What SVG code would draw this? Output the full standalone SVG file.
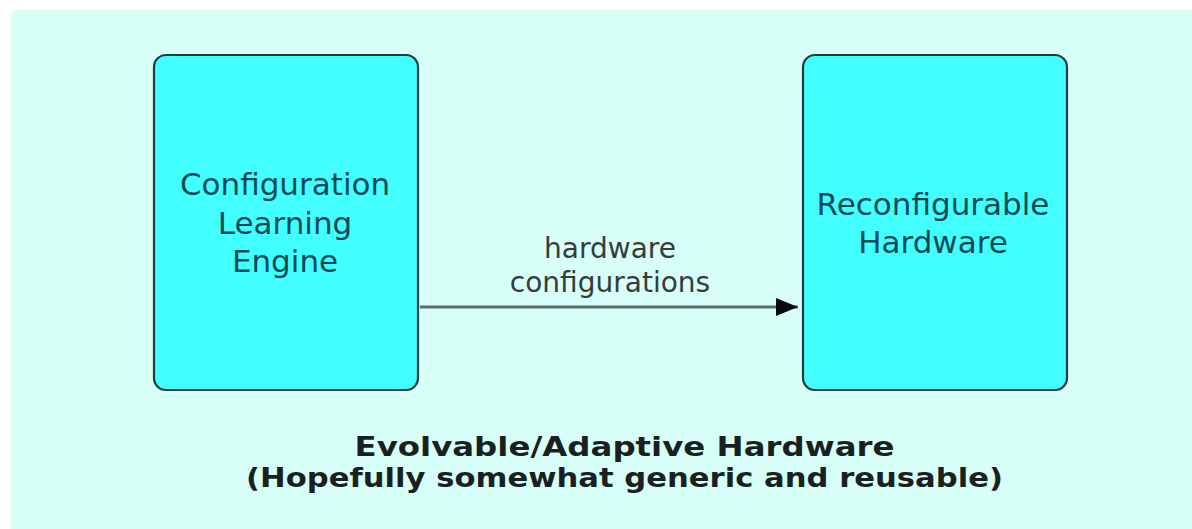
<svg xmlns="http://www.w3.org/2000/svg" width="1192" height="529" viewBox="0 0 1192 529">
  <defs>
    <style>
      .box { fill: #42fefe; stroke: #1d3c3e; stroke-width: 2.2; }
      .boxtext { font-family: "DejaVu Sans", Verdana, sans-serif; font-size: 31px; fill: #0f4a55; text-anchor: middle; }
      .label { font-family: "DejaVu Sans", Verdana, sans-serif; font-size: 28px; fill: #363c3c; text-anchor: middle; }
      .title { font-family: "DejaVu Sans", Verdana, sans-serif; font-weight: bold; font-size: 27px; fill: #1a1f1f; text-anchor: middle; }
      .conn { stroke: #5d6b6b; stroke-width: 3; fill: none; }
    </style>
    <marker id="arrow" markerWidth="24" markerHeight="20" refX="22" refY="10" markerUnits="userSpaceOnUse" orient="auto">
      <path d="M0,1 L22,10 L0,19 Z" fill="#0a0a0a"/>
    </marker>
  </defs>
  <rect x="0" y="0" width="1192" height="529" fill="#ffffff"/>
  <rect id="background" x="11" y="10" width="1200" height="540" rx="6" fill="#d7fff7"/>

  <g id="node-config-learning-engine">
    <rect class="box" x="154" y="55" width="264" height="335" rx="12"/>
    <text class="boxtext" x="285" y="195">Configuration</text>
    <text class="boxtext" x="285" y="233.5">Learning</text>
    <text class="boxtext" x="285" y="272">Engine</text>
  </g>

  <g id="node-reconfigurable-hardware">
    <rect class="box" x="803" y="55" width="264" height="335" rx="12"/>
    <text class="boxtext" x="933" y="215">Reconfigurable</text>
    <text class="boxtext" x="933" y="253">Hardware</text>
  </g>

  <g id="connectors">
    <line class="conn" x1="420" y1="307" x2="798" y2="307" marker-end="url(#arrow)"/>
    <text class="label" x="610" y="258">hardware</text>
    <text class="label" x="610" y="292">configurations</text>
  </g>

  <g id="caption">
    <text class="title" x="624.5" y="456" textLength="540" lengthAdjust="spacingAndGlyphs">Evolvable/Adaptive Hardware</text>
    <text class="title" x="624.5" y="487" textLength="757" lengthAdjust="spacingAndGlyphs">(Hopefully somewhat generic and reusable)</text>
  </g>
</svg>
